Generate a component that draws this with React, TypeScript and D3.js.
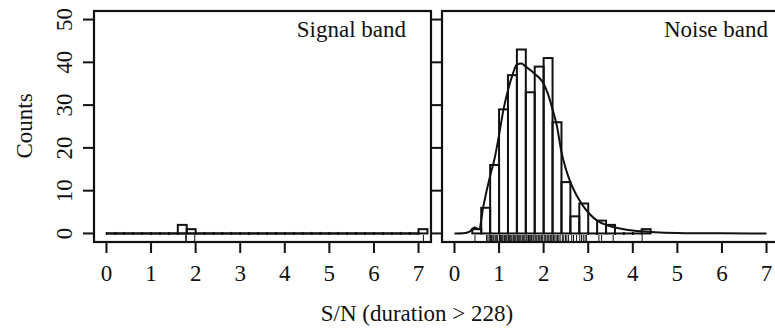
import React from "react";
import * as d3 from "d3";

const binWidth = 0.2;
const signalStart = 0;
const signalCounts = [0,0,0,0,0,0,0,0,2,1,0,0,0,0,0,0,0,0,0,0,0,0,0,0,0,0,0,0,0,0,0,0,0,0,0,1];
const noiseStart = 0.4;
const noiseCounts = [1,6,16,29,37,43,33,39,41,26,12,4,7,0,3,2,0,0,0,1];

const signalRug = [1.78, 1.79, 1.98, 7.11];
const noiseRug = [0.46,0.72,0.75,0.78,0.81,0.83,0.86,0.88,0.91,0.93,0.95,0.97,1.01,1.03,1.05,1.07,1.09,1.12,1.14,1.16,1.18,1.21,1.23,1.25,1.27,1.29,1.32,1.34,1.36,1.38,1.41,1.43,1.45,1.47,1.49,1.52,1.54,1.56,1.58,1.61,1.63,1.66,1.68,1.71,1.73,1.76,1.78,1.81,1.83,1.85,1.88,1.9,1.92,1.95,1.97,2.01,2.03,2.05,2.08,2.1,2.12,2.15,2.17,2.19,2.22,2.25,2.28,2.31,2.34,2.37,2.42,2.45,2.49,2.52,2.56,2.63,2.67,2.74,2.81,2.85,2.89,2.93,2.96,3.24,3.3,3.56,4.21];

const signalDensX = [0, 7];
const signalDensY = [0, 0];
const noiseDensX = [0,0.2,0.35,0.45,0.55,0.65,0.8,0.9,1.0,1.1,1.2,1.3,1.4,1.5,1.6,1.7,1.8,1.9,2.0,2.1,2.2,2.3,2.4,2.5,2.6,2.7,2.8,2.9,3.0,3.2,3.4,3.6,3.8,4.0,4.2,4.5,5.0,5.5,6.0,7.0];
const noiseDensY = [0,0.05,0.5,1.4,1.0,6.5,13.5,17.5,23,29,33.5,37,39.5,39.7,39,38.2,37.3,36.4,35,32.5,29,25,19,15,12,9.7,7.8,6.2,4.9,3.0,2.0,1.4,1.0,0.7,0.5,0.3,0.12,0.05,0.02,0];

const xTicks = [0,1,2,3,4,5,6,7];
const yTicks = [0,10,20,30,40,50];
const panelLabels = ["Signal band", "Noise band"];
const xTitle = "S/N (duration > 228)";
const yTitle = "Counts";

const W = 775, H = 332;
const TOP = 11, BOTTOM = 242;
const FONT = "'Liberation Serif', 'Times New Roman', serif";
const INK = "#111";
const FS = 23;

const panels = [
  { x0: 94, x1: 431, start: signalStart, counts: signalCounts, rug: signalRug, dx: signalDensX, dy: signalDensY, label: panelLabels[0], labelX: 406 },
  { x0: 442, x1: 779, start: noiseStart, counts: noiseCounts, rug: noiseRug, dx: noiseDensX, dy: noiseDensY, label: panelLabels[1], labelX: 768 },
];

const y = d3.scaleLinear().domain([-2, 52]).range([BOTTOM, TOP]);

function Panel({ p, idx }: { p: any; idx: number }) {
  const x = d3.scaleLinear().domain([-0.28, 7.28]).range([p.x0, p.x1]);
  const line = d3.line<number>().x((_, i) => x(p.dx[i])).y((_, i) => y(p.dy[i])).curve(d3.curveMonotoneX);
  const y0 = y(0);
  return (
    <g>
      {p.counts.map((c: number, i: number) => {
        const a = x(p.start + i * binWidth), b = x(p.start + (i + 1) * binWidth);
        if (c === 0) {
          return (
            <g key={i}>
              <line x1={a} x2={b} y1={y0} y2={y0} stroke={INK} strokeWidth={2} />
              <line x1={a} x2={a} y1={y0 - 1.5} y2={y0 + 1.5} stroke={INK} strokeWidth={1.5} />
              <line x1={b} x2={b} y1={y0 - 1.5} y2={y0 + 1.5} stroke={INK} strokeWidth={1.5} />
            </g>
          );
        }
        return <rect key={i} x={a} y={y(c)} width={b - a} height={y0 - y(c)} fill="none" stroke={INK} strokeWidth={2} />;
      })}
      <path d={line(p.dx) || ""} fill="none" stroke={INK} strokeWidth={2} />
      {p.rug.map((v: number, i: number) => (
        <line key={i} x1={x(v)} x2={x(v)} y1={BOTTOM} y2={BOTTOM - 7} stroke={INK} strokeWidth={1} />
      ))}
      <rect x={p.x0} y={TOP} width={p.x1 - p.x0} height={BOTTOM - TOP} fill="none" stroke={INK} strokeWidth={2.2} />
      {xTicks.map((t) => (
        <g key={t}>
          <line x1={x(t)} x2={x(t)} y1={BOTTOM} y2={BOTTOM + 11} stroke={INK} strokeWidth={2} />
          <text x={x(t)} y={281} textAnchor="middle" fontSize={FS} fontFamily={FONT} fill={INK}>{t}</text>
        </g>
      ))}
      {yTicks.map((t) => (
        <g key={t}>
          <line x1={p.x0 - 11} x2={p.x0} y1={y(t)} y2={y(t)} stroke={INK} strokeWidth={2} />
          {idx === 0 && (
            <text x={72} y={y(t)} transform={`rotate(-90, 72, ${y(t)})`} textAnchor="middle" fontSize={FS} fontFamily={FONT} fill={INK}>{t}</text>
          )}
        </g>
      ))}
      <text x={p.labelX} y={37} textAnchor="end" fontSize={FS} fontFamily={FONT} fill={INK}>{p.label}</text>
    </g>
  );
}

export default function App() {
  return (
    <svg width={W} height={H} style={{ display: "block", position: "absolute", left: 0, top: 0, background: "#fff" }}>
      <rect x={0} y={0} width={W} height={H} fill="#fff" />
      {panels.map((p, i) => <Panel key={i} p={p} idx={i} />)}
      <text x={417} y={321} textAnchor="middle" fontSize={FS} fontFamily={FONT} fill={INK}>{xTitle}</text>
      <text x={32} y={126} transform="rotate(-90, 32, 126)" textAnchor="middle" fontSize={FS} fontFamily={FONT} fill={INK}>{yTitle}</text>
    </svg>
  );
}
